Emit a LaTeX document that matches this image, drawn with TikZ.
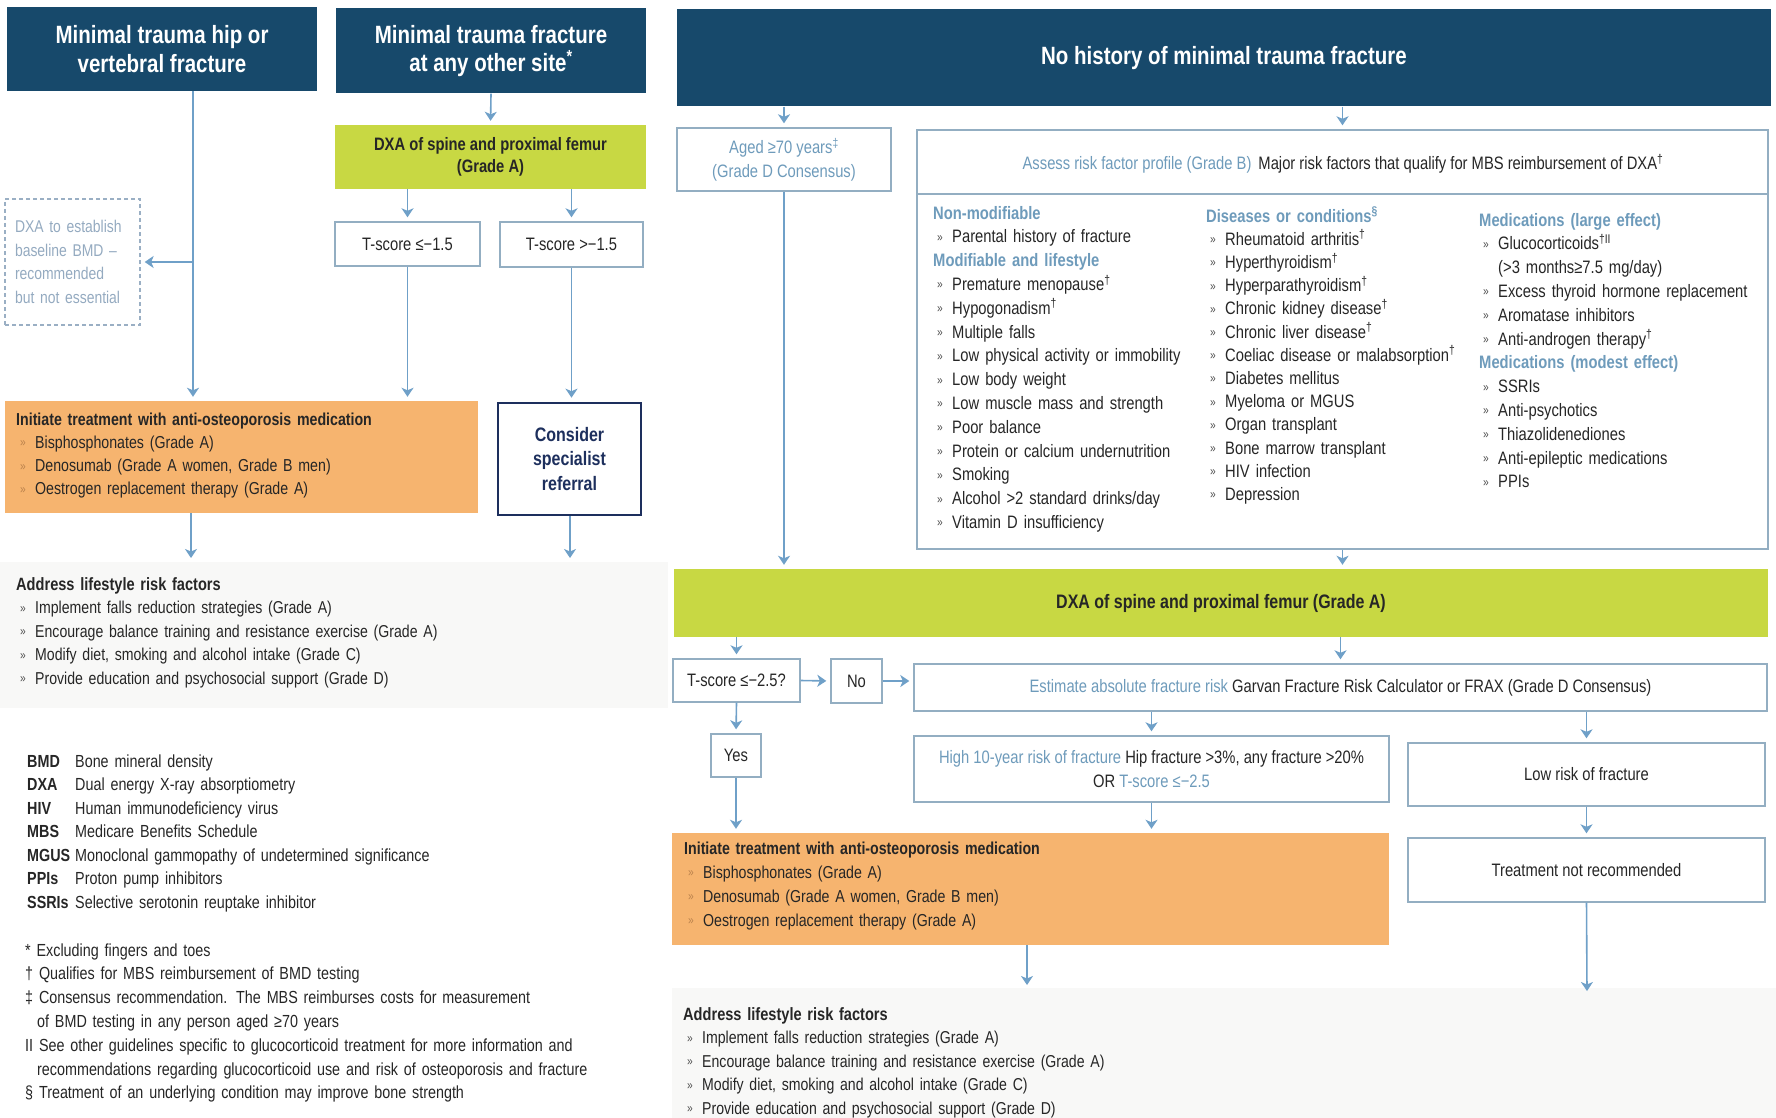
\documentclass[tikz,border=0pt]{standalone}
\usepackage{fontspec}
\setmainfont{Liberation Sans}[FakeStretch=0.82]
\usetikzlibrary{arrows.meta,backgrounds}
\definecolor{headfill}{HTML}{17496B}
\definecolor{dxafill}{HTML}{C8D843}
\definecolor{treatfill}{HTML}{F6B46F}
\definecolor{boxdraw}{HTML}{93AEC2}
\definecolor{linkcolor}{HTML}{6FA0C8}
\definecolor{hintcolor}{HTML}{6E9BBB}
\definecolor{notecolor}{HTML}{94AAC0}
\definecolor{notedraw}{HTML}{9AAFC4}
\definecolor{referdraw}{HTML}{1D2F5D}
\definecolor{textcolor}{HTML}{262626}
\definecolor{bulletcolor}{HTML}{4A4A4A}
\definecolor{treatbullet}{HTML}{B9814C}
\definecolor{addressfill}{HTML}{F8F8F7}
\newcommand{\bodyfont}{\fontsize{18}{23.5}\selectfont}
\newcommand{\headfont}{\bfseries\fontsize{25}{28.5}\selectfont}
\newcommand{\bl}[1][bulletcolor]{\hspace*{4pt}\makebox[15pt][l]{\raisebox{1.5pt}{\fontsize{12.5}{12.5}\selectfont\textcolor{#1}{»}}}}
\newcommand{\hint}[1]{\textcolor{hintcolor}{#1}}
\newcommand{\hd}[1]{{\bfseries\color{hintcolor}#1}}
\newcommand{\ab}[1]{\makebox[48pt][l]{\bfseries #1}}
\newcommand{\dg}{\textsuperscript{†}}
\tikzset{
  >={Stealth[length=9pt,width=12pt,inset=2.5pt]},
  title box/.style={
    rectangle,
    fill=headfill,
    text=white,
    inner sep=0pt,
    align=center,
    font=\headfont
  },
  dxa box/.style={
    rectangle,
    fill=dxafill,
    text=textcolor,
    inner sep=0pt,
    align=center,
    font=\bfseries\fontsize{18}{21.5}\selectfont
  },
  plain box/.style={
    rectangle,
    draw=boxdraw,
    fill=white,
    line width=1.4pt,
    text=textcolor,
    inner sep=0pt,
    align=center,
    font=\bodyfont
  },
  note box/.style={
    rectangle,
    draw=notedraw,
    dash pattern=on 4pt off 3pt,
    line width=1.3pt,
    text=notecolor,
    inner xsep=10pt,
    inner ysep=0pt,
    align=left,
    font=\fontsize{17}{23.5}\selectfont
  },
  treat box/.style={
    rectangle,
    fill=treatfill,
    inner sep=0pt
  },
  referral box/.style={
    rectangle,
    draw=referdraw,
    fill=white,
    line width=2.6pt,
    text=referdraw,
    inner sep=0pt,
    align=center,
    font=\bfseries\fontsize{19.5}{24.4}\selectfont
  },
  list text/.style={
    anchor=base west,
    inner sep=0pt,
    text=textcolor,
    align=left,
    font=\bodyfont
  },
  link/.style={
    draw=linkcolor,
    line width=1.6pt,
    ->,
    shorten >=4pt
  }
}

\begin{document}
\begin{tikzpicture}[x=1pt,y=-1pt]
  \useasboundingbox (0,0) rectangle (1776,1118);
  \fill[addressfill] (0,562) rectangle (668,708);
  \fill[addressfill] (672,988) rectangle (1776,1118);

  % headers
  \node[title box, minimum width=310pt, minimum height=84pt] (hipfx) at (162,49)
    {Minimal trauma hip or\\vertebral fracture};
  \node[title box, minimum width=310pt, minimum height=85pt] (otherfx) at (491,51)
    {Minimal trauma fracture\\at any other site\textsuperscript{*}};
  \node[title box, minimum width=1094pt, minimum height=97pt] (nohist) at (1224,58)
    {\raisebox{-3pt}{No history of minimal trauma fracture}};

  % fracture branches
  \node[dxa box, minimum width=311pt, minimum height=64pt] (dxaleft) at (490.5,157)
    {DXA of spine and proximal femur\\(Grade A)};
  \node[plain box, minimum width=145pt, minimum height=44pt] (tlow) at (407.5,244)
    {T-score ≤−1.5};
  \node[plain box, minimum width=143pt, minimum height=45pt] (thigh) at (571.5,244.5)
    {T-score >−1.5};
  \node[note box, text width=115pt, minimum height=126pt] (dxanote) at (72.5,262)
    {DXA to establish\\baseline BMD –\\recommended\\but not essential};
  \node[treat box, minimum width=473.5pt, minimum height=112pt] (treatleft) at (241.25,457) {};
  \node[referral box, minimum width=143pt, minimum height=112pt] (referral) at (569.5,459)
    {Consider\\specialist\\referral};

  \node[list text, text width=440pt, font=\fontsize{17.3}{23.3}\selectfont] (treatleftlist) at (16,425)
    {{\bfseries Initiate treatment with anti-osteoporosis medication}\\
     \bl[treatbullet]Bisphosphonates (Grade A)\\
     \bl[treatbullet]Denosumab (Grade A women, Grade B men)\\
     \bl[treatbullet]Oestrogen replacement therapy (Grade A)};

  \node[list text, text width=600pt, font=\fontsize{17.2}{23.5}\selectfont] (addleftlist) at (16,590)
    {{\bfseries\fontsize{17.8}{23.5}\selectfont Address lifestyle risk factors}\\
     \bl Implement falls reduction strategies (Grade A)\\
     \bl Encourage balance training and resistance exercise (Grade A)\\
     \bl Modify diet, smoking and alcohol intake (Grade C)\\
     \bl Provide education and psychosocial support (Grade D)};

  \coordinate (hipline) at (193,0);
  \coordinate (leftgo) at (191,562);
  \coordinate (refgo) at (570,562);
  \draw[link] (hipline |- hipfx.south) -- (hipline |- treatleft.north);
  \draw[link] (hipline |- dxanote.east) -- (dxanote.east);
  \draw[link] (otherfx.south) -- (dxaleft.north);
  \draw[link] (tlow.north |- dxaleft.south) -- (tlow.north);
  \draw[link] (thigh.north |- dxaleft.south) -- (thigh.north);
  \draw[link] (tlow.south) -- (tlow.south |- treatleft.north);
  \draw[link] (thigh.south) -- (thigh.south |- referral.north);
  \draw[link] (treatleft.south -| leftgo) -- (leftgo);
  \draw[link] (referral.south -| refgo) -- (refgo);

  % abbreviations and footnotes
  \node[list text, text width=600pt, font=\fontsize{17.5}{23.5}\selectfont] (abbrev) at (27,767)
    {\ab{BMD}Bone mineral density\\
     \ab{DXA}Dual energy X-ray absorptiometry\\
     \ab{HIV}Human immunodeficiency virus\\
     \ab{MBS}Medicare Benefits Schedule\\
     \ab{MGUS}Monoclonal gammopathy of undetermined significance\\
     \ab{PPIs}Proton pump inhibitors\\
     \ab{SSRIs}Selective serotonin reuptake inhibitor};
  \node[list text, text width=700pt, font=\fontsize{17.5}{23.8}\selectfont] (notes) at (25,956)
    {* Excluding fingers and toes\\
     † Qualifies for MBS reimbursement of BMD testing\\
     ‡ Consensus recommendation. The MBS reimburses costs for measurement\\
     \hspace*{12pt}of BMD testing in any person aged ≥70 years\\
     II See other guidelines specific to glucocorticoid treatment for more information and\\
     \hspace*{12pt}recommendations regarding glucocorticoid use and risk of osteoporosis and fracture\\
     § Treatment of an underlying condition may improve bone strength};

  % no history branch
  \node[plain box, text=hintcolor, minimum width=214pt, minimum height=63pt] (aged) at (784,159.5)
    {Aged ≥70 years\textsuperscript{‡}\\(Grade D Consensus)};
  \node[plain box, minimum width=851pt, minimum height=419pt] (assess) at (1342.5,339.5) {};
  \draw[draw=boxdraw, line width=1.4pt] (assess.west |- 0,194) -- (assess.east |- 0,194);
  \node[inner sep=0pt, font=\bodyfont, text=textcolor] (assesstitle) at (1343,164)
    {\hint{Assess risk factor profile (Grade B)}\hspace{7pt}Major risk factors that qualify for MBS reimbursement of DXA\dg};

  \node[list text, text width=260pt, font=\fontsize{18}{23.8}\selectfont] (nonmod) at (933,219)
    {\hd{Non-modifiable}\\
     \bl Parental history of fracture\\
     \hd{Modifiable and lifestyle}\\
     \bl Premature menopause\dg\\
     \bl Hypogonadism\dg\\
     \bl Multiple falls\\
     \bl Low physical activity or immobility\\
     \bl Low body weight\\
     \bl Low muscle mass and strength\\
     \bl Poor balance\\
     \bl Protein or calcium undernutrition\\
     \bl Smoking\\
     \bl Alcohol >2 standard drinks/day\\
     \bl Vitamin D insufficiency};
  \node[list text, text width=260pt, font=\fontsize{18}{23.2}\selectfont] (disease) at (1206,222)
    {\hd{Diseases or conditions\textsuperscript{§}}\\
     \bl Rheumatoid arthritis\dg\\
     \bl Hyperthyroidism\dg\\
     \bl Hyperparathyroidism\dg\\
     \bl Chronic kidney disease\dg\\
     \bl Chronic liver disease\dg\\
     \bl Coeliac disease or malabsorption\dg\\
     \bl Diabetes mellitus\\
     \bl Myeloma or MGUS\\
     \bl Organ transplant\\
     \bl Bone marrow transplant\\
     \bl HIV infection\\
     \bl Depression};
  \node[list text, text width=280pt, font=\fontsize{18}{23.8}\selectfont] (medic) at (1479,226)
    {\hd{Medications (large effect)}\\
     \bl Glucocorticoids\textsuperscript{†II}\\
     \hspace*{19pt}(>3 months≥7.5 mg/day)\\
     \bl Excess thyroid hormone replacement\\
     \bl Aromatase inhibitors\\
     \bl Anti-androgen therapy\dg\\
     \hd{Medications (modest effect)}\\
     \bl SSRIs\\
     \bl Anti-psychotics\\
     \bl Thiazolidenediones\\
     \bl Anti-epileptic medications\\
     \bl PPIs};

  \node[dxa box, font=\bfseries\fontsize{19.5}{22}\selectfont, minimum width=1094pt, minimum height=68pt] (dxaright) at (1221,603)
    {DXA of spine and proximal femur (Grade A)};
  \node[plain box, minimum width=127pt, minimum height=43pt] (tq) at (736.5,680.5) {T-score ≤−2.5?};
  \node[plain box, minimum width=51pt, minimum height=44pt] (no) at (856.5,681) {No};
  \node[plain box, minimum width=853pt, minimum height=47pt] (estimate) at (1340.5,687.5)
    {\hint{Estimate absolute fracture risk} Garvan Fracture Risk Calculator or FRAX (Grade D Consensus)};
  \node[plain box, minimum width=50pt, minimum height=43pt] (yes) at (736,755.5) {Yes};
  \node[plain box, minimum width=475pt, minimum height=66pt] (high) at (1151.5,769)
    {\hint{High 10-year risk of fracture} Hip fracture >3\%, any fracture >20\%\\OR \hint{T-score ≤−2.5}};
  \node[plain box, minimum width=357pt, minimum height=63pt] (low) at (1586.5,774.5) {Low risk of fracture};
  \node[plain box, minimum width=357pt, minimum height=64pt] (notrec) at (1586.5,870) {Treatment not recommended};
  \node[treat box, minimum width=717pt, minimum height=112pt] (treatright) at (1030.5,889) {};

  \node[list text, text width=600pt, font=\fontsize{17.3}{24}\selectfont] (treatrightlist) at (684,854)
    {{\bfseries Initiate treatment with anti-osteoporosis medication}\\
     \bl[treatbullet]Bisphosphonates (Grade A)\\
     \bl[treatbullet]Denosumab (Grade A women, Grade B men)\\
     \bl[treatbullet]Oestrogen replacement therapy (Grade A)};
  \node[list text, text width=700pt, font=\fontsize{17.2}{23.5}\selectfont] (addrightlist) at (683,1020)
    {{\bfseries\fontsize{17.8}{23.5}\selectfont Address lifestyle risk factors}\\
     \bl Implement falls reduction strategies (Grade A)\\
     \bl Encourage balance training and resistance exercise (Grade A)\\
     \bl Modify diet, smoking and alcohol intake (Grade C)\\
     \bl Provide education and psychosocial support (Grade D)};

  \coordinate (rightgo) at (1027,989);
  \coordinate (notrecgo) at (1587,995);
  \draw[link] (aged.north |- nohist.south) -- (aged.north);
  \draw[link] (assess.north |- nohist.south) -- (assess.north);
  \draw[link] (aged.south) -- (aged.south |- dxaright.north);
  \draw[link] (assess.south) -- (assess.south |- dxaright.north);
  \draw[link] (tq.north |- dxaright.south) -- (tq.north);
  \draw[link] (estimate.north |- dxaright.south) -- (estimate.north);
  \draw[link] (tq.east) -- (no.west);
  \draw[link] (no.east) -- (no.east -| estimate.west);
  \draw[link] (tq.south) -- (yes.north);
  \draw[link] (yes.south) -- (yes.south |- treatright.north);
  \draw[link] (high.north |- estimate.south) -- (high.north);
  \draw[link] (low.north |- estimate.south) -- (low.north);
  \draw[link] (high.south) -- (high.south |- treatright.north);
  \draw[link] (low.south) -- (notrec.north);
  \draw[link] (treatright.south -| rightgo) -- (rightgo);
  \draw[link] (notrec.south) -- (notrecgo);
\end{tikzpicture}
\end{document}
